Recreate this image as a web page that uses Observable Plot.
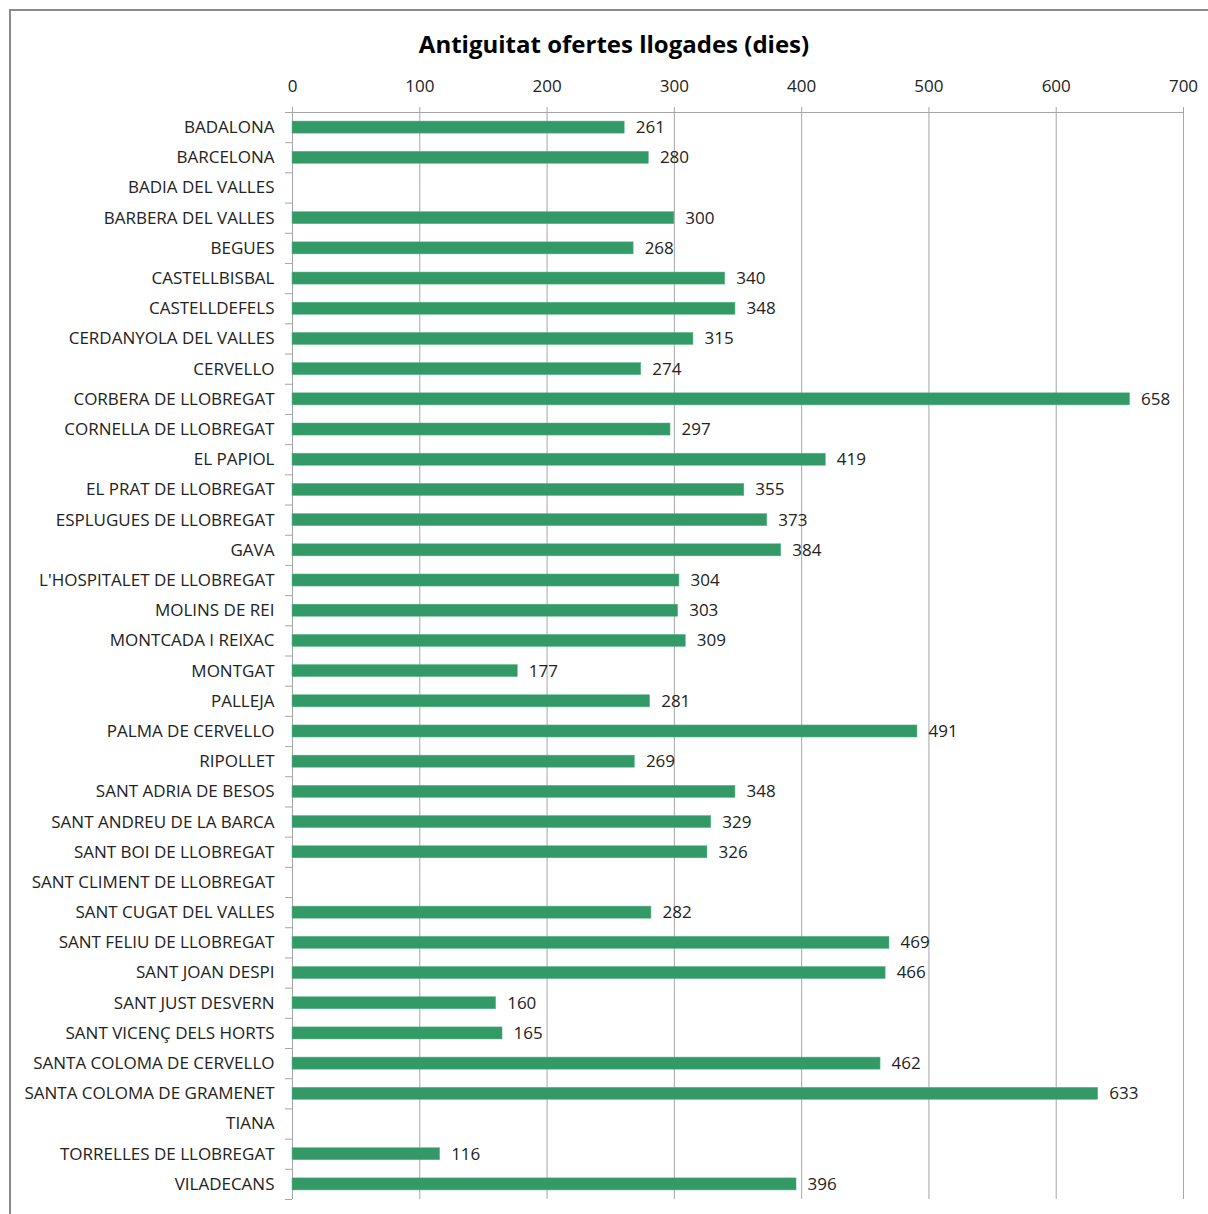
<!DOCTYPE html>
<html>
<head>
<meta charset="utf-8">
<script src="https://cdn.jsdelivr.net/npm/d3@7"></script>
<script src="https://cdn.jsdelivr.net/npm/@observablehq/plot@0.6"></script>
<style>
  html, body { margin: 0; padding: 0; background: #fff; overflow: hidden; }
  #wrap { position: relative; width: 1208px; height: 1214px; overflow: hidden; background: #fff; }
  #frame { position: absolute; left: 9px; top: 9px; width: 1220px; height: 1230px; border: 2px solid #8a8a8a; box-sizing: border-box; z-index: 5; pointer-events: none; }
  #title { position: absolute; left: 0; top: 28px; width: 1228px; text-align: center; font-family: "Open Sans", sans-serif; font-weight: bold; font-size: 24px; color: #000; line-height: 32px; z-index: 2; }
  #chart { position: absolute; left: 0; top: 62px; z-index: 1; }
</style>
</head>
<body>
<div id="wrap">
  <div id="chart"></div>
  <div id="title">Antiguitat ofertes llogades (dies)</div>
  <div id="frame"></div>
</div>
<script>
const municipis = [
  "BADALONA", "BARCELONA", "BADIA DEL VALLES", "BARBERA DEL VALLES", "BEGUES",
  "CASTELLBISBAL", "CASTELLDEFELS", "CERDANYOLA DEL VALLES", "CERVELLO",
  "CORBERA DE LLOBREGAT", "CORNELLA DE LLOBREGAT", "EL PAPIOL", "EL PRAT DE LLOBREGAT",
  "ESPLUGUES DE LLOBREGAT", "GAVA", "L'HOSPITALET DE LLOBREGAT", "MOLINS DE REI",
  "MONTCADA I REIXAC", "MONTGAT", "PALLEJA", "PALMA DE CERVELLO", "RIPOLLET",
  "SANT ADRIA DE BESOS", "SANT ANDREU DE LA BARCA", "SANT BOI DE LLOBREGAT",
  "SANT CLIMENT DE LLOBREGAT", "SANT CUGAT DEL VALLES", "SANT FELIU DE LLOBREGAT",
  "SANT JOAN DESPI", "SANT JUST DESVERN", "SANT VICENÇ DELS HORTS",
  "SANTA COLOMA DE CERVELLO", "SANTA COLOMA DE GRAMENET", "TIANA",
  "TORRELLES DE LLOBREGAT", "VILADECANS"
];
const dies = [
  261, 280, null, 300, 268,
  340, 348, 315, 274,
  658, 297, 419, 355,
  373, 384, 304, 303,
  309, 177, 281, 491, 269,
  348, 329, 326,
  null, 282, 469,
  466, 160, 165,
  462, 633, null,
  116, 396
];
const xTicks = [0, 100, 200, 300, 400, 500, 600, 700];

const data = municipis.map((m, i) => ({municipi: m, dies: dies[i]}));
const withValue = data.filter(d => d.dies != null);

const W = 1208, H = 1152;
const mTop = 50, mBottom = 15, mLeft = 292, mRight = 25;
const step = (H - mTop - mBottom) / municipis.length;

const font = "'Open Sans', sans-serif";

const plot = Plot.plot({
  width: W,
  height: H,
  marginTop: mTop,
  marginBottom: mBottom,
  marginLeft: mLeft,
  marginRight: mRight,
  style: {fontFamily: font, fontSize: "17px", color: "#222", background: "transparent"},
  x: {domain: [0, 700], ticks: xTicks},
  y: {domain: municipis, paddingInner: 0.6, paddingOuter: 0.3, round: false},
  marks: [
    Plot.gridX(xTicks, {stroke: "#a6a6a6", strokeOpacity: 1, strokeWidth: 1}),
    Plot.axisX(xTicks, {anchor: "top", tickSize: 6, tickPadding: 15, stroke: "#a6a6a6", fill: "#222", fontSize: 17, label: null}),
    Plot.ruleY([municipis[0]], {y: d => d, dy: -step / 2, x1: -5.5, x2: 700, stroke: "#a6a6a6"}),
    Plot.ruleX([0], {stroke: "#a6a6a6"}),
    Plot.ruleY(municipis, {y: d => d, dy: step / 2, x1: -5.5, x2: 0, stroke: "#a6a6a6"}),
    Plot.axisY({anchor: "left", tickSize: 0, tickPadding: 18, fill: "#222", fontSize: 17, label: null}),
    Plot.barX(withValue, {y: "municipi", x: "dies", fill: "#339966", stroke: "#5cb88a", strokeWidth: 0.5}),
    Plot.text(withValue, {y: "municipi", x: "dies", text: "dies", textAnchor: "start", dx: 11, fill: "#222", fontSize: 17})
  ]
});
document.getElementById("chart").appendChild(plot);
</script>
</body>
</html>
